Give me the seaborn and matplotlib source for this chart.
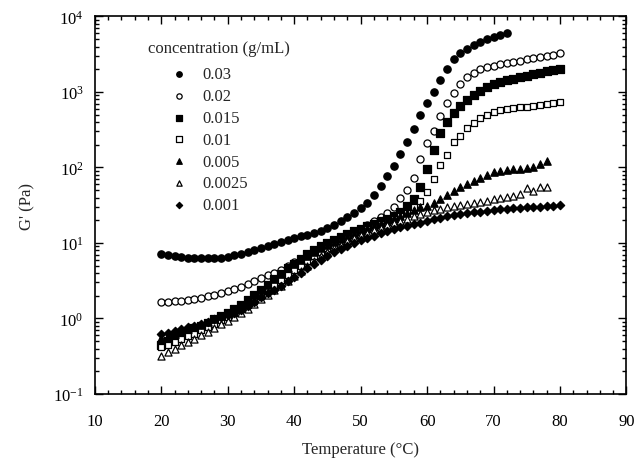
import numpy as np
import pandas as pd
import matplotlib
matplotlib.use('Agg')
import matplotlib.pyplot as plt
import seaborn as sns
from matplotlib.ticker import MultipleLocator, LogLocator, NullFormatter

sns.set_style("ticks")
plt.rcParams['font.family'] = ['Liberation Serif', 'DejaVu Serif']
plt.rcParams['mathtext.fontset'] = 'stix'

# temperatures (deg C), one reading per degree
temp_72 = np.arange(20, 73)
temp_78 = np.arange(20, 79)
temp_80 = np.arange(20, 81)

# G' (Pa)
g_003 = [7.2, 6.9, 6.7, 6.5, 6.4, 6.3, 6.3, 6.3, 6.3, 6.4,
         6.6, 6.9, 7.2, 7.6, 8.0, 8.5, 9.0, 9.7, 10.3, 10.9,
         11.6, 12.2, 12.8, 13.5, 14.5, 15.6, 17.4, 19.7, 22, 25,
         28.7, 33.5, 43, 57, 76, 105, 150, 215, 320, 490,
         720, 1000, 1450, 2000, 2700, 3250, 3700, 4150, 4600, 5000,
         5350, 5650, 6100]
g_002 = [1.63, 1.66, 1.69, 1.72, 1.76, 1.82, 1.89, 1.96, 2.03, 2.15,
         2.3, 2.45, 2.65, 2.9, 3.15, 3.45, 3.75, 4.05, 4.4, 5.0,
         5.6, 6.2, 6.9, 7.5, 8.1, 8.8, 9.8, 11.0, 12.5, 14.0,
         15.5, 17.2, 19.5, 22, 25, 30, 39, 50, 72, 128,
         210, 300, 475, 710, 960, 1270, 1570, 1780, 2020, 2120,
         2240, 2350, 2440, 2520, 2600, 2720, 2830, 2930, 3010, 3100,
         3250]
g_0015 = [0.45, 0.5, 0.56, 0.62, 0.68, 0.74, 0.8, 0.88, 0.97, 1.08,
          1.2, 1.35, 1.52, 1.75, 2.05, 2.4, 2.8, 3.3, 3.9, 4.6,
          5.3, 6.1, 7.1, 8.2, 9.0, 10.0, 11.0, 12.0, 13.2, 14.4,
          15.5, 16.7, 18, 19.5, 21, 23, 26, 31, 38, 55,
          95, 170, 290, 400, 530, 660, 780, 900, 1040, 1150,
          1260, 1350, 1430, 1500, 1570, 1650, 1730, 1800, 1880, 1950,
          2030]
g_001 = [0.42, 0.45, 0.49, 0.53, 0.58, 0.63, 0.7, 0.77, 0.85, 0.95,
         1.05, 1.17, 1.32, 1.5, 1.72, 2.0, 2.35, 2.75, 3.2, 3.75,
         4.35, 5.0, 5.8, 6.7, 7.6, 8.5, 9.5, 10.5, 11.6, 12.8,
         14, 15.2, 16.4, 17.6, 19, 20.5, 22.5, 25, 30, 36,
         47, 70, 108, 148, 215, 262, 330, 390, 450, 495,
         535, 570, 595, 610, 626, 640, 655, 670, 690, 710,
         730]
g_0005 = [0.55, 0.59, 0.63, 0.67, 0.72, 0.77, 0.83, 0.9, 0.98, 1.08,
          1.2, 1.34, 1.5, 1.75, 2.05, 2.4, 2.8, 3.3, 3.9, 4.6,
          5.2, 5.9, 6.7, 7.6, 8.5, 9.4, 10.4, 11.4, 12.5, 13.6,
          14.8, 16, 17.2, 18.5, 20, 21.5, 23, 25, 27.5, 30,
          31, 33.5, 38, 43, 49, 55, 61, 67, 73, 79,
          86, 91, 94, 95, 96, 98, 103, 110, 122]
g_00025 = [0.32, 0.36, 0.4, 0.44, 0.49, 0.54, 0.6, 0.67, 0.75, 0.84,
           0.94, 1.05, 1.18, 1.35, 1.55, 1.8, 2.05, 2.35, 2.7, 3.15,
           3.7, 4.3, 5.0, 5.8, 6.7, 7.6, 8.6, 9.5, 10.5, 11.6,
           12.6, 13.7, 14.8, 16, 17.2, 18.5, 19.8, 21, 22.5, 24,
           25.5, 27, 28.5, 29.8, 31, 32, 32.8, 33.8, 35, 36.5,
           38, 39.5, 40.5, 42, 45, 53, 49, 55, 56]
g_0001 = [0.62, 0.65, 0.68, 0.72, 0.76, 0.8, 0.85, 0.9, 0.97, 1.04,
          1.12, 1.2, 1.3, 1.45, 1.65, 1.9, 2.15, 2.4, 2.7, 3.1,
          3.5, 4.0, 4.6, 5.3, 6.0, 6.8, 7.6, 8.4, 9.2, 10.0,
          10.8, 11.6, 12.5, 13.4, 14.3, 15.2, 16.1, 17.0, 17.8, 18.6,
          19.5, 20.5, 21.5, 22.5, 23.4, 24.2, 24.9, 25.5, 26.0, 26.6,
          27.2, 27.8, 28.3, 28.8, 29.3, 29.7, 30.0, 30.3, 30.7, 31.2,
          31.8]

labels = ['0.03', '0.02', '0.015', '0.01', '0.005', '0.0025', '0.001']
temps = [temp_72, temp_80, temp_80, temp_80, temp_78, temp_78, temp_80]
values = [g_003, g_002, g_0015, g_001, g_0005, g_00025, g_0001]
markers = ['o', 'o', 's', 's', '^', '^', 'D']
filled = [True, False, True, False, True, False, True]
sizes = [28, 26, 26, 24, 28, 26, 18]

fig = plt.figure(figsize=(6.36, 4.60), dpi=100)
ax = fig.add_axes([0.149, 0.1413, 0.836, 0.8207])

for t, g, lab, m, f, s in zip(temps, values, labels, markers, filled, sizes):
    df = pd.DataFrame({'T': t, 'G': g})
    sns.scatterplot(data=df, x='T', y='G', ax=ax, marker=m, s=s,
                    color='black' if f else 'white', edgecolor='black',
                    linewidth=0.9, label=lab, zorder=3)

ax.set_yscale('log')
ax.set_xlim(10, 90)
ax.set_ylim(0.1, 1e4)
ax.xaxis.set_major_locator(MultipleLocator(10))
ax.xaxis.set_minor_locator(MultipleLocator(2))
ax.yaxis.set_major_locator(LogLocator(base=10, numticks=10))
ax.yaxis.set_minor_locator(LogLocator(base=10, subs=np.arange(2, 10), numticks=20))
ax.yaxis.set_minor_formatter(NullFormatter())
ax.tick_params(which='both', direction='in', top=True, right=True, colors='black',
               labelsize=12, width=1.0)
ax.tick_params(which='major', length=6, pad=8)
ax.tick_params(axis='x', which='major', pad=14)
ax.tick_params(which='minor', length=3)
for sp in ax.spines.values():
    sp.set_linewidth(1.2)
    sp.set_color('black')

ax.set_xlabel('Temperature (°C)', fontsize=12, labelpad=8)
ax.set_ylabel("G' (Pa)", fontsize=12, labelpad=13)

ax.text(0.1, 0.917, 'concentration (g/mL)', transform=ax.transAxes,
        fontsize=12, ha='left', va='center')
leg = ax.legend(loc='upper left', bbox_to_anchor=(0.149, 0.868), frameon=False,
                fontsize=12, handlelength=0.6, handletextpad=1.1,
                labelspacing=0.35, markerscale=0.75, borderaxespad=0,
                borderpad=0)

plt.savefig('out.png', dpi=100)
